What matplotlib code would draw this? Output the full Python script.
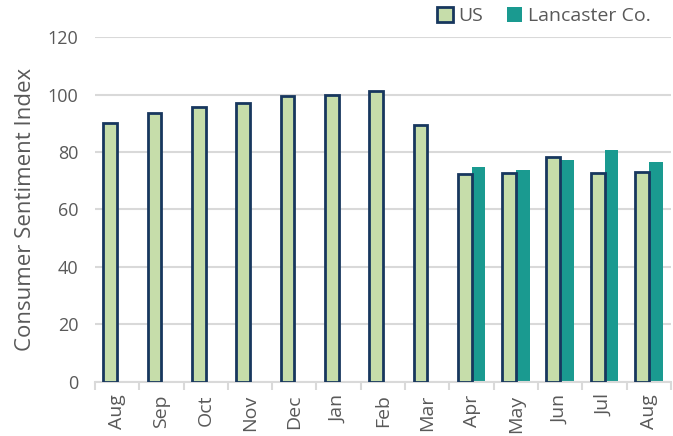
import numpy as np
import matplotlib.pyplot as plt
from matplotlib.ticker import FixedLocator

months = ["Aug", "Sep", "Oct", "Nov", "Dec", "Jan", "Feb", "Mar", "Apr", "May", "Jun", "Jul", "Aug"]
us = [90.1, 93.5, 95.8, 96.9, 99.6, 99.9, 101.2, 89.4, 72.2, 72.6, 78.4, 72.8, 73.2]
lancaster = [np.nan] * 8 + [74.7, 73.7, 77.2, 80.7, 76.5]

plt.rcParams['font.family'] = ['Open Sans', 'DejaVu Sans']
grey = "#595959"

fig = plt.figure(figsize=(6.73, 4.36), dpi=100)
ax = fig.add_axes([0.141, 0.124, 0.856, 0.791])

x = np.arange(len(months))
w = 0.31
ax.bar(x - w/2, us, w, color="#c6ddaa", edgecolor="#17375e", linewidth=2, label="US", zorder=3)
ax.bar(x + w/2, lancaster, w, color="#1a9a90", label="Lancaster Co.", zorder=2)

ax.set_xlim(-0.5, len(months) - 0.5)
ax.set_ylim(0, 120)
ax.set_yticks(range(0, 121, 20))
ax.yaxis.grid(True, color="#d9d9d9", linewidth=1.5, zorder=0)
ax.set_axisbelow(True)

ax.set_xticks(x)
ax.set_xticklabels(months, rotation=90, fontsize=14, color=grey)
ax.xaxis.set_minor_locator(FixedLocator(np.arange(-0.5, len(months), 1)))
ax.tick_params(axis="x", which="major", length=0, pad=9)
ax.tick_params(axis="x", which="minor", length=6, color="#d9d9d9", width=1.5)
ax.tick_params(axis="y", length=0, labelsize=13, labelcolor=grey, pad=12)

for s in ["left", "right", "top"]:
    ax.spines[s].set_visible(False)
ax.spines["bottom"].set_color("#d9d9d9")
ax.spines["bottom"].set_linewidth(1.5)

ax.set_ylabel("Consumer Sentiment Index", fontsize=16, color=grey, labelpad=8)

ax.legend(loc="lower right", bbox_to_anchor=(0.985, 1.0), ncol=2, frameon=False,
          fontsize=14, labelcolor=grey, handlelength=0.8, handleheight=0.8,
          handletextpad=0.3, columnspacing=1.2, borderaxespad=0.2)

fig.savefig("out.png", dpi=100)
